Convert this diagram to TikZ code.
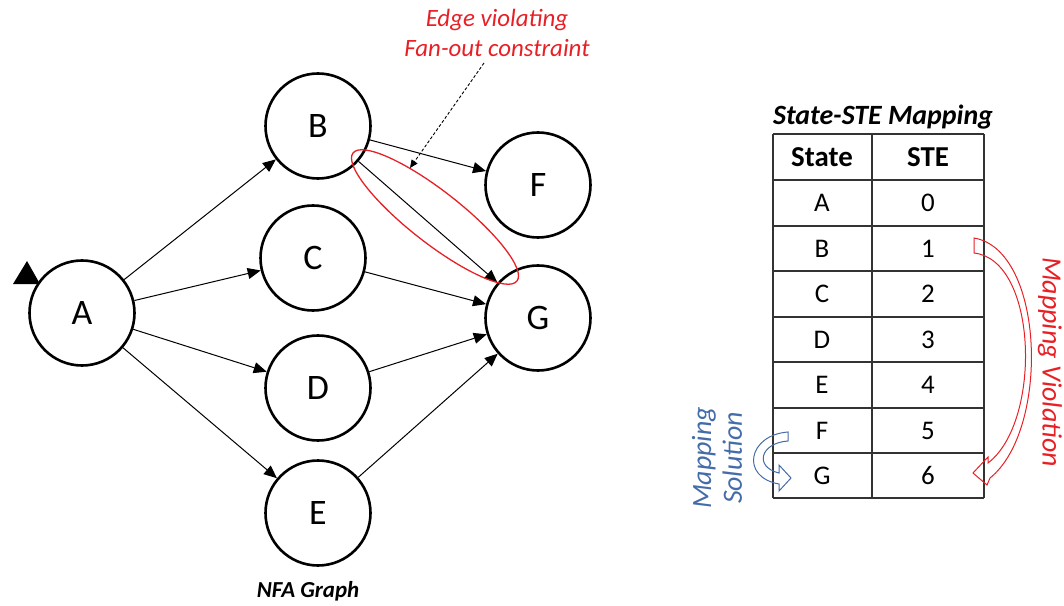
\documentclass[tikz,border=0pt]{standalone}
\usepackage{fontspec}
\setmainfont{Carlito}
\usetikzlibrary{arrows.meta}
\definecolor{vioRed}{RGB}{232,32,38}
\definecolor{solBlue}{RGB}{68,108,168}
\begin{document}
\begin{tikzpicture}[x=1bp,y=-1bp,
  state/.style={circle, draw, line width=2.6bp, minimum size=105bp, inner sep=0pt,
                font=\fontsize{36}{40}\selectfont},
  edge/.style={draw, line width=1bp, -{Triangle[length=13bp,width=11bp]}},
  cell/.style={font=\fontsize{27}{30}\selectfont},
  headcell/.style={font=\fontsize{29}{32}\selectfont\bfseries},
  grid/.style={line width=1.3bp, draw=black!80},
  note/.style={font=\fontsize{25}{30}\selectfont\itshape, align=center},
  sidenote/.style={font=\fontsize{28}{31}\selectfont\itshape, align=center},
  caption/.style={font=\fontsize{23}{28}\selectfont\bfseries\itshape}]
\useasboundingbox (0,0) rectangle (1064,606);

% ---------------- NFA graph ----------------
\node[state] (A) at (82,313) {A};
\node[state] (B) at (318,126) {B};
\node[state] (C) at (313,258) {C};
\node[state] (D) at (318,388) {D};
\node[state] (E) at (318,513) {E};
\node[state] (F) at (538,185) {F};
\node[state] (G) at (538,318) {G};

% start marker
\fill (27,261) -- (13,284) -- (40,284) -- cycle;

\draw[edge] (A) -- (B);
\draw[edge] (A) -- (C);
\draw[edge] (A) -- (D);
\draw[edge] (A) -- (E);
\draw[edge] (B) -- (F);
\draw[edge] (B) -- (G);
\draw[edge] (C) -- (G);
\draw[edge] (D) -- (G);
\draw[edge] (E) -- (G);

% fan-out violation highlight
\draw[vioRed, line width=1.3bp, rotate around={-38:(435,217)}]
  (435,217) ellipse [x radius=104, y radius=26];
\node[note, text=vioRed] (violNote) at (497,33) {Edge violating\\Fan-out constraint};
\coordinate (calloutStart) at (484,63);
\coordinate (calloutEnd) at (410,168);
\draw[line width=0.9bp, dash pattern=on 3bp off 2bp, -{Triangle[length=8bp,width=7bp]}]
  (calloutStart) -- (calloutEnd);

\node[caption] (nfaCap) at (308,591) {NFA Graph};

% ---------------- State-STE table ----------------
\node[caption, font=\fontsize{28}{32}\selectfont\bfseries\itshape] (tabCap) at (883,117) {State-STE Mapping};
\foreach \yy in {134,180,226,271,317,362,408,453,498}
  \draw[grid] (773,\yy) -- (984,\yy);
\foreach \xx in {773,872,984}
  \draw[grid] (\xx,134) -- (\xx,498);

\node[headcell] (hState) at (822,157) {State};
\node[headcell] (hSTE) at (928,157) {STE};
\foreach \s/\n/\r in {A/0/0,B/1/1,C/2/2,D/3/3,E/4/4,F/5/5,G/6/6}{
  \node[cell] (st\s) at (822,{203+45.5*\r}) {\s};
  \node[cell] (ste\s) at (928,{203+45.5*\r}) {\n};
}

% mapping violation arrow (curved block arrow, outline)
\draw[vioRed, line width=1bp, line join=miter]
  (974,238) .. controls (1045,250) and (1050,430) .. (990,478)
  -- (987,485) -- (973,473) -- (988,457) -- (988,463)
  .. controls (1042,422) and (1038,260) .. (974,253) -- cycle;
\node[sidenote, text=vioRed, rotate=-90] (violLabel) at (1050,362) {Mapping Violation};

% mapping solution arrow (curved block arrow, outline)
\draw[solBlue, line width=1bp, line join=miter]
  (788,432) .. controls (748,435) and (740,477) .. (779,484)
  -- (779,491) -- (791,478) -- (779,465) -- (779,473)
  .. controls (754,467) and (760,443) .. (788,441) -- cycle;
\node[sidenote, text=solBlue, rotate=90] (solLabel) at (717,458) {Mapping\\Solution};
\end{tikzpicture}
\end{document}
